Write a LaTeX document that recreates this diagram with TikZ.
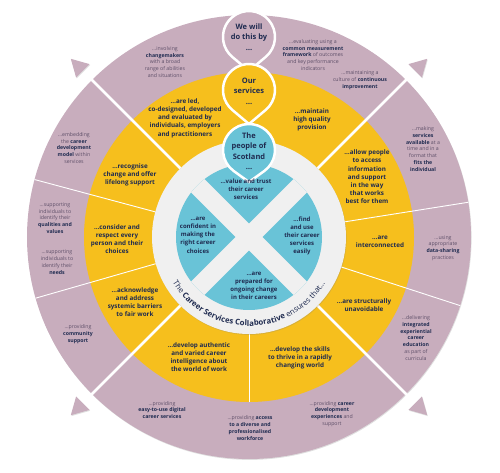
\documentclass[tikz,border=0pt]{standalone}
\usepackage{fontspec}
\setmainfont{Open Sans}
\usepackage{tikz}
\usetikzlibrary{calc,shadows,decorations.text}

\definecolor{mauve}{HTML}{C8ADBD}
\definecolor{gold}{HTML}{F6BF1D}
\definecolor{sky}{HTML}{69C3D7}
\definecolor{navy}{HTML}{1F2B50}
\definecolor{ringgrey}{HTML}{F0F0F0}
\definecolor{softpurple}{HTML}{5E4F68}
\newcommand{\kw}[1]{\textbf{\color{navy}#1}}

\begin{document}
\begin{tikzpicture}[x=1pt,y=1pt,
  goldtext/.style={font=\bfseries\fontsize{6.3}{8.2}\selectfont, text=navy, align=center},
  skytext/.style={font=\bfseries\fontsize{6}{8.2}\selectfont, text=navy, align=center},
  outertext/.style={font=\fontsize{5.2}{6.8}\selectfont, text=softpurple, align=center},
  pintext/.style={font=\bfseries\fontsize{7.5}{10.5}\selectfont, text=navy, align=center},
  divider/.style={white, line width=0.9},
  shaft/.style={white, line width=2.8},
  soft/.style={drop shadow={opacity=0.25, shadow xshift=0.6pt, shadow yshift=-0.9pt}}]
  \useasboundingbox (-249,-236) rectangle (251,237);

  % rings
  \fill[mauve, soft] (0,0) circle (222);
  \fill[gold] (0,0) circle (165);
  \draw[divider] (9:97) -- (9:222);
  \draw[divider] (-18:97) -- (-18:222);
  \draw[divider] (165:97) -- (165:222);
  \draw[divider] (196:97) -- (196:222);
  \draw[divider] (270:97) -- (270:165);

  % arrows of the saltire
  \draw[shaft] (45:97) -- (45:237);
  \draw[shaft] (135:97) -- (135:237);
  \draw[shaft] (225:97) -- (225:237);
  \draw[shaft] (315:97) -- (315:237);
  \fill[mauve, soft] (45:252) -- ($(45:235)+(135:9.5)$) -- ($(45:235)+(-45:9.5)$) -- cycle;
  \fill[mauve, soft] (135:252) -- ($(135:235)+(225:9.5)$) -- ($(135:235)+(45:9.5)$) -- cycle;
  \fill[mauve, soft] (225:252) -- ($(225:235)+(315:9.5)$) -- ($(225:235)+(135:9.5)$) -- cycle;
  \fill[mauve, soft] (315:252) -- ($(315:235)+(45:9.5)$) -- ($(315:235)+(225:9.5)$) -- cycle;

  % centre
  \fill[ringgrey, soft] (0,0) circle (97);
  \fill[sky] (0,0) circle (73);
  \begin{scope}
    \clip (0,0) circle (73);
    \draw[ringgrey, line width=19] (-80,-80) -- (80,80);
    \draw[ringgrey, line width=19] (-80,80) -- (80,-80);
  \end{scope}

  % pins
  \filldraw[fill=mauve, draw=white, line width=2.5, soft] (0,200) ++(-49.9:26)
    arc[start angle=-49.9, end angle=229.9, radius=26] -- (0,166) -- cycle;
  \filldraw[fill=gold, draw=white, line width=2.5, soft] (0,147) ++(-49.9:26)
    arc[start angle=-49.9, end angle=229.9, radius=26] -- (0,113) -- cycle;
  \filldraw[fill=sky, draw=white, line width=2.5, soft] (0,87) ++(-54.3:26)
    arc[start angle=-54.3, end angle=234.3, radius=26] -- (0,55) -- cycle;
  \node[pintext] (will) at (0,200) {We will\\do this by\\…};
  \node[pintext] (ours) at (0,146) {Our\\services\\…};
  \node[pintext] (people) at (0,86) {The\\people of\\Scotland\\…};

  % inner quarters
  \node[skytext] (trust) at (-3,48) {…value and trust\\their career\\services};
  \node[skytext] (confident) at (-51,2) {…are\\confident in\\making the\\right career\\choices};
  \node[skytext] (find) at (53,1) {…find\\and use\\their career\\services\\easily};
  \node[skytext] (prepared) at (5,-49) {…are\\prepared for\\ongoing change\\in their careers};

  \path[decorate, decoration={text along path, text align=center,
    text={|\fontsize{7.8}{8}\selectfont\color{navy}|The |\fontsize{7.8}{8}\selectfont\bfseries\color{navy}|Career Services Collaborative|\fontsize{7.8}{8}\selectfont\color{navy}| ensures that…}}]
    (190:89) arc[start angle=190, end angle=350, radius=89];

  % yellow ring
  \node[goldtext] (led) at (-64,119) {…are led,\\co-designed, developed\\and evaluated by\\individuals, employers\\and practitioners};
  \node[goldtext] (quality) at (63,117) {…maintain\\high quality\\provision};
  \node[goldtext] (access) at (118,60) {…allow people\\to access\\information\\and support\\in the way\\that works\\best for them};
  \node[goldtext] (inter) at (131,-5) {…are\\interconnected};
  \node[goldtext] (unavoid) at (115,-68) {…are structurally\\unavoidable};
  \node[goldtext] (skills) at (51,-121) {…develop the skills\\to thrive in a rapidly\\changing world};
  \node[goldtext] (intel) at (-50,-120) {…develop authentic\\and varied career\\intelligence about\\the world of work};
  \node[goldtext] (barriers) at (-114,-65) {…acknowledge\\and address\\systemic barriers\\to fair work};
  \node[goldtext] (respect) at (-132,-2) {…consider and\\respect every\\person and their\\choices};
  \node[goldtext] (lifelong) at (-119,62) {…recognise\\change and offer\\lifelong support};

  % mauve ring
  \node[outertext] (changemakers) at (-84,175) {…involving\\\kw{changemakers}\\with a broad\\range of abilities\\and situations};
  \node[outertext] (measure) at (64,182) {…evaluating using a\\\kw{common measurement}\\\kw{framework} of outcomes\\and key performance\\indicators};
  \node[outertext] (improve) at (111,157) {…maintaining a\\culture of \kw{continuous}\\\kw{improvement}};
  \node[outertext] (available) at (174,88) {…making\\\kw{services}\\\kw{available} at a\\time and in a\\format that\\\kw{fits the}\\\kw{individual}};
  \node[outertext] (sharing) at (194,-11) {…using\\appropriate\\\kw{data-sharing}\\practices};
  \node[outertext] (curricula) at (167,-101) {…delivering\\\kw{integrated}\\\kw{experiential}\\\kw{career}\\\kw{education}\\as part of\\curricula};
  \node[outertext] (experiences) at (83,-177) {…providing \kw{career}\\\kw{development}\\\kw{experiences} and\\support};
  \node[outertext] (workforce) at (1,-191) {…providing \kw{access}\\\kw{to a diverse and}\\\kw{professionalised}\\\kw{workforce}};
  \node[outertext] (digital) at (-87,-173) {…providing\\\kw{easy-to-use digital}\\\kw{career services}};
  \node[outertext] (community) at (-171,-97) {…providing\\\kw{community}\\\kw{support}};
  \node[outertext] (needs) at (-192,-25) {…supporting\\individuals to\\identify their\\\kw{needs}};
  \node[outertext] (qualities) at (-194,19) {…supporting\\individuals to\\identify their\\\kw{qualities and}\\\kw{values}};
  \node[outertext] (embedding) at (-175,89) {…embedding\\the \kw{career}\\\kw{development}\\\kw{model} within\\services};
\end{tikzpicture}
\end{document}
